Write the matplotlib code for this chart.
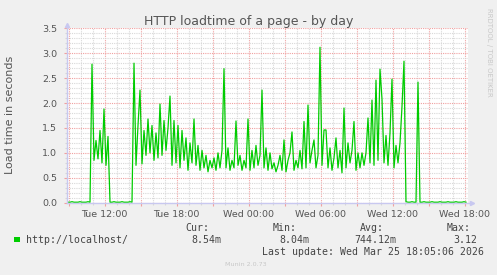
import matplotlib
matplotlib.use("Agg")
import matplotlib.pyplot as plt
from matplotlib.patches import Rectangle
from matplotlib.ticker import MultipleLocator, FixedLocator
import numpy as np

# ---- data (10-minute samples, hours since Tue 00:00) ----
start_hour = 8.858
step_hours = 1.0 / 6.0
loadtime = [
    0.01, 0.01, 0.02, 0.01, 0.01, 0.01, 0.02, 0.01, 0.01, 0.01, 0.02, 0.01,
    2.78, 0.85, 1.25, 0.88, 1.45, 0.80, 1.88, 0.75, 1.33,
    0.01, 0.01, 0.02, 0.01, 0.01, 0.01, 0.02, 0.01, 0.01, 0.01, 0.02, 0.01,
    2.80, 0.75, 1.55, 2.26, 0.78, 1.45, 0.95, 1.68, 1.00, 1.55, 0.85, 1.40,
    0.90, 1.98, 0.95, 1.65, 1.05, 1.50, 2.14, 0.75, 1.65, 0.80, 1.55, 0.70,
    1.45, 0.85, 1.30, 0.65, 1.20, 0.80, 1.68, 0.75, 1.15, 0.65, 1.05, 0.70,
    0.95, 0.62, 0.85, 0.70, 0.90, 0.65, 1.00, 0.70, 1.05, 2.69, 0.70, 1.10,
    0.65, 0.85, 0.70, 1.64, 0.75, 0.95, 0.65, 0.85, 0.70, 1.68, 0.65, 1.05,
    0.70, 1.15, 0.75, 0.95, 2.26, 0.70, 1.10, 0.65, 1.00, 0.68, 0.80, 0.62,
    0.75, 0.95, 0.65, 1.26, 0.62, 0.85, 1.00, 1.42, 0.65, 0.85, 0.70, 1.05,
    0.68, 1.63, 0.70, 1.96, 0.80, 1.05, 1.26, 0.70, 0.95, 3.12, 0.75, 1.46,
    1.46, 0.70, 1.10, 0.65, 0.90, 1.30, 0.70, 1.05, 0.60, 1.90, 0.70, 1.20,
    0.80, 1.05, 1.63, 0.65, 1.00, 0.70, 1.00, 0.75, 1.00, 1.70, 0.80, 2.06,
    0.75, 2.46, 0.85, 2.68, 2.08, 0.80, 1.35, 0.75, 1.40, 2.48, 0.70, 1.15,
    0.80, 1.20, 1.93, 2.84,
    0.02, 0.01, 0.01, 0.02, 0.01, 0.01, 2.42,
    0.01, 0.01, 0.02, 0.01, 0.01, 0.01, 0.02, 0.01, 0.01, 0.01, 0.02, 0.01,
    0.01, 0.01, 0.02, 0.01, 0.01, 0.01, 0.02, 0.01, 0.01, 0.01, 0.02, 0.01,
]
times = [start_hour + step_hours * (i + 0.5) for i in range(len(loadtime))]

tick_hours = [12, 18, 24, 30, 36, 42]
tick_labels = ["Tue 12:00", "Tue 18:00", "Wed 00:00", "Wed 06:00", "Wed 12:00", "Wed 18:00"]
y_ticks = [0.0, 0.5, 1.0, 1.5, 2.0, 2.5, 3.0, 3.5]

series_name = "http://localhost/"
cur_val, min_val, avg_val, max_val = "8.54m", "8.04m", "744.12m", "3.12"
last_update = "Last update: Wed Mar 25 18:05:06 2026"

# ---- figure ----
W, H = 497, 275
fig = plt.figure(figsize=(W / 100, H / 100), dpi=100, facecolor="#F0F0F0")
ax = fig.add_axes([67 / W, (H - 202.7) / H, 401 / W, 174.4 / H])
ax.set_facecolor("#FFFFFF")

ax.set_xlim(8.858, 42.275)
ax.set_ylim(0, 3.5)

ax.xaxis.set_minor_locator(MultipleLocator(1))
ax.yaxis.set_major_locator(FixedLocator(y_ticks))
ax.yaxis.set_minor_locator(MultipleLocator(0.1))

ax.grid(which="minor", color="#D8D8D8", linestyle=(0, (1, 1)), linewidth=0.8, zorder=0)
ax.grid(which="major", color="#F0A0A0", linestyle=(0, (1, 1)), linewidth=0.8, zorder=0)
ax.set_axisbelow(True)

# x tick labels only every 6 hours
major_hours = np.arange(9, 43, 3)
ax.set_xticks(major_hours)
labs = [tick_labels[tick_hours.index(h)] if h in tick_hours else "" for h in major_hours]
ax.set_xticklabels(labs)
ax.set_yticklabels(["%.1f" % v for v in y_ticks])

ax.tick_params(axis="both", which="major", labelsize=6.8, labelcolor="#555555",
               color="#F0A0A0", length=2, width=0.8)
ax.tick_params(axis="both", which="minor", color="#D8D8D8", length=1.5, width=0.8)
ax.tick_params(axis="x", pad=3)
ax.tick_params(axis="y", pad=5)

for s in ax.spines.values():
    s.set_visible(False)

ax.plot(times, loadtime, color="#00CC00", linewidth=0.9, zorder=3)

# axes with arrows
axc = "#C8C8F0"
ax.plot([0, 1.008], [0, 0], transform=ax.transAxes, color=axc, lw=1, clip_on=False, zorder=4)
ax.plot([0, 0], [0, 1.015], transform=ax.transAxes, color=axc, lw=1, clip_on=False, zorder=4)
ax.plot([1.011], [0], transform=ax.transAxes, marker=">", ms=3, color=axc, clip_on=False, zorder=4)
ax.plot([0], [1.02], transform=ax.transAxes, marker="^", ms=3, color=axc, clip_on=False, zorder=4)

# texts
fig.text(248.3 / W, (H - 24.5) / H, "HTTP loadtime of a page - by day", ha="center", va="baseline",
         fontsize=9, color="#555555")
fig.text(10.5 / W, (H - 114.5) / H, "Load time in seconds", rotation=90, ha="center", va="center",
         fontsize=8, color="#555555")
fig.text(488.5 / W, (H - 52) / H, "RRDTOOL / TOBI OETIKER", rotation=270, ha="center", va="center",
         fontsize=5, color="#C8C8C8")

mono = dict(family="DejaVu Sans Mono", fontsize=7.1, color="#444444", va="baseline", ha="left")
fig.patches.append(Rectangle((14 / W, (H - 242.3) / H), 6 / W, 5.6 / H, transform=fig.transFigure,
                             facecolor="#00CC00", edgecolor="none"))
fig.text(26 / W, (H - 243) / H, series_name, **mono)
fig.text(185.7 / W, (H - 231.3) / H, "Cur:", **mono)
fig.text(272.7 / W, (H - 231.3) / H, "Min:", **mono)
fig.text(360 / W, (H - 231.3) / H, "Avg:", **mono)
fig.text(446.7 / W, (H - 231.3) / H, "Max:", **mono)
fig.text(191 / W, (H - 242.9) / H, cur_val, **mono)
fig.text(279 / W, (H - 242.9) / H, min_val, **mono)
fig.text(354 / W, (H - 242.9) / H, avg_val, **mono)
fig.text(453 / W, (H - 242.9) / H, max_val, **mono)
fig.text(261.7 / W, (H - 254.6) / H, last_update, **mono)
fig.text(245.5 / W, (H - 264) / H, "Munin 2.0.73", ha="center", va="center", fontsize=4.6,
         color="#C8C8C8")

fig.savefig("out.png", dpi=100, facecolor=fig.get_facecolor())
